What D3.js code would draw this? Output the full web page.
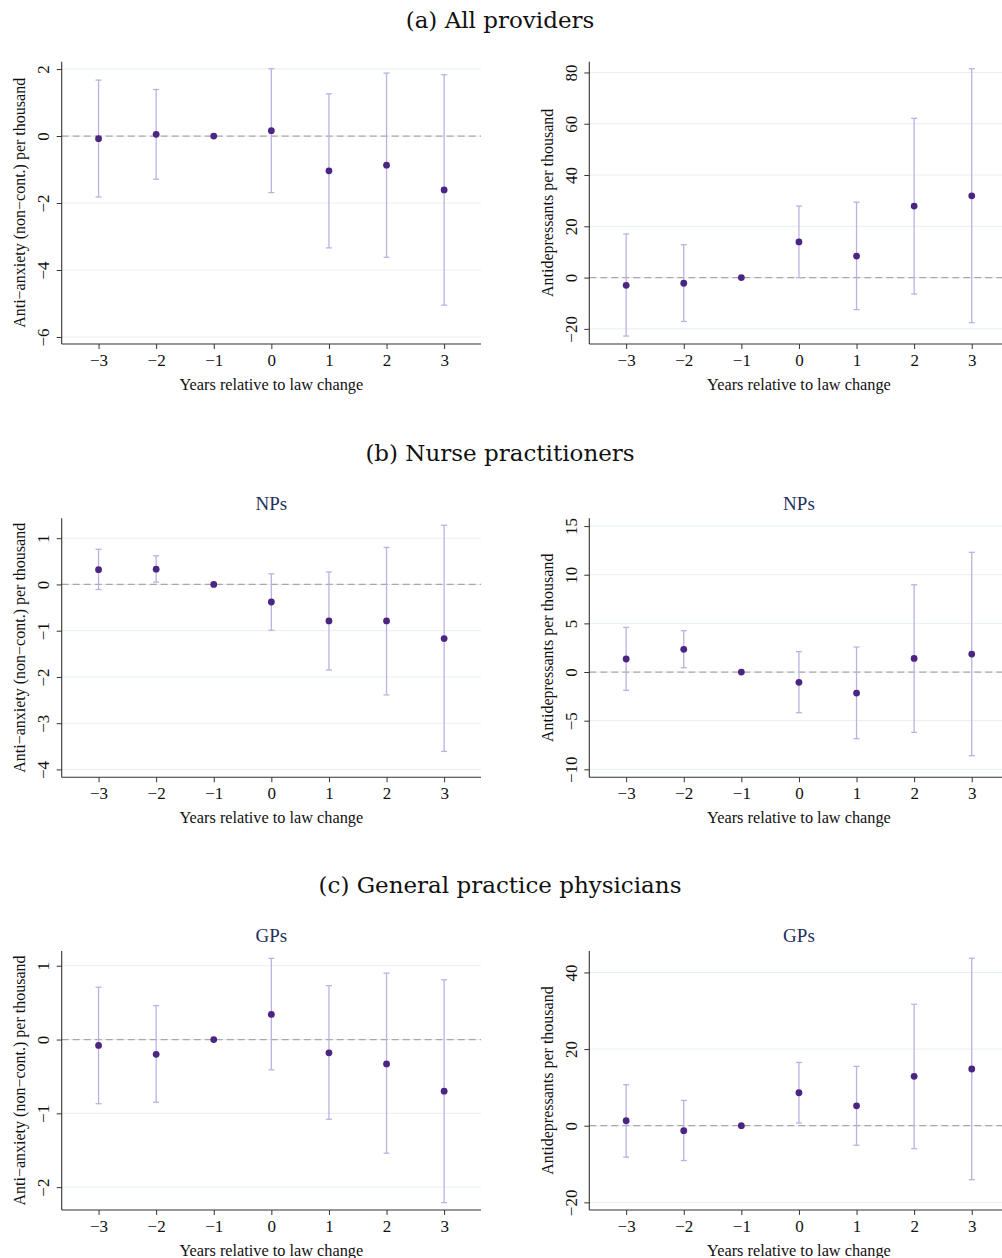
<!DOCTYPE html>
<html>
<head>
<meta charset="utf-8">
<script src="https://cdn.jsdelivr.net/npm/d3@7"></script>
<style>
  body { margin: 0; background: #fff; }
  svg { display: block; }
</style>
</head>
<body>
<svg id="chart" width="1002" height="1258"></svg>
<script>
// ---------- Data ----------
const years = [-3, -2, -1, 0, 1, 2, 3];
const xTicks = [-3, -2, -1, 0, 1, 2, 3];

// (a) All providers
const allAnxEst = [-0.08, 0.05, 0, 0.16, -1.04, -0.87, -1.61];
const allAnxLo  = [-1.82, -1.29, null, -1.69, -3.34, -3.62, -5.05];
const allAnxHi  = [1.67, 1.39, null, 2.01, 1.26, 1.88, 1.83];
const allAnxTicks = [-6, -4, -2, 0, 2];

const allDepEst = [-3.0, -2.2, 0, 13.9, 8.4, 27.9, 31.9];
const allDepLo  = [-22.8, -17.1, null, 0.0, -12.5, -6.4, -17.6];
const allDepHi  = [17.0, 12.8, null, 27.9, 29.4, 62.1, 81.5];
const allDepTicks = [-20, 0, 20, 40, 60, 80];

// (b) Nurse practitioners
const npAnxEst = [0.32, 0.33, 0, -0.38, -0.79, -0.79, -1.17];
const npAnxLo  = [-0.11, 0.05, null, -0.99, -1.85, -2.39, -3.61];
const npAnxHi  = [0.76, 0.62, null, 0.23, 0.27, 0.80, 1.28];
const npAnxTicks = [-4, -3, -2, -1, 0, 1];

const npDepEst = [1.34, 2.33, 0, -1.06, -2.16, 1.40, 1.85];
const npDepLo  = [-1.88, 0.45, null, -4.18, -6.85, -6.2, -8.6];
const npDepHi  = [4.59, 4.25, null, 2.09, 2.57, 8.97, 12.3];
const npDepTicks = [-10, -5, 0, 5, 10, 15];

// (c) General practice physicians
const gpAnxEst = [-0.08, -0.20, 0, 0.34, -0.18, -0.33, -0.70];
const gpAnxLo  = [-0.87, -0.85, null, -0.41, -1.08, -1.54, -2.21];
const gpAnxHi  = [0.71, 0.46, null, 1.10, 0.73, 0.90, 0.81];
const gpAnxTicks = [-2, -1, 0, 1];

const gpDepEst = [1.3, -1.3, 0, 8.6, 5.2, 12.9, 14.8];
const gpDepLo  = [-8.2, -9.1, null, 0.7, -5.1, -6.0, -14.1];
const gpDepHi  = [10.7, 6.6, null, 16.5, 15.5, 31.7, 43.7];
const gpDepTicks = [-20, 0, 20, 40];

const rowTitles = ["(a) All providers", "(b) Nurse practitioners", "(c) General practice physicians"];
const subTitles = [null, "NPs", "GPs"];
const xLabel = "Years relative to law change";
const anxLabel = "Anti\u2212anxiety (non\u2212cont.) per thousand";
const depLabel = "Antidepressants per thousand";

// ---------- Layout ----------
const svg = d3.select("#chart");
const serif = "'Liberation Serif', 'Times New Roman', serif";
const titleFont = "'DejaVu Serif', serif";

const rows = [
  { titleY: 20, subY: null, top: 61.7, bottom: 344,
    panels: [
      { est: allAnxEst, lo: allAnxLo, hi: allAnxHi, ticks: allAnxTicks, dom: [-6.21, 2.22], label: anxLabel },
      { est: allDepEst, lo: allDepLo, hi: allDepHi, ticks: allDepTicks, dom: [-25.9, 84.2], label: depLabel }
    ] },
  { titleY: 453, subY: 503, top: 518.3, bottom: 777.3,
    panels: [
      { est: npAnxEst, lo: npAnxLo, hi: npAnxHi, ticks: npAnxTicks, dom: [-4.17, 1.43], label: anxLabel },
      { est: npDepEst, lo: npDepLo, hi: npDepHi, ticks: npDepTicks, dom: [-10.82, 15.8], label: depLabel }
    ] },
  { titleY: 885, subY: 935, top: 951, bottom: 1210,
    panels: [
      { est: gpAnxEst, lo: gpAnxLo, hi: gpAnxHi, ticks: gpAnxTicks, dom: [-2.31, 1.20], label: anxLabel },
      { est: gpDepEst, lo: gpDepLo, hi: gpDepHi, ticks: gpDepTicks, dom: [-22.0, 45.6], label: depLabel }
    ] }
];
const colX = [
  { left: 61.7, right: 481, labelX: 19 },
  { left: 589.3, right: 1008.6, labelX: 547 }
];

const ciColor = "#bcb2e0";
const ptColor = "#4a2582";
const gridColor = "#e7eff1";

rows.forEach((row, ri) => {
  svg.append("text")
    .attr("x", 500).attr("y", row.titleY)
    .attr("text-anchor", "middle").attr("dominant-baseline", "central")
    .style("font-family", titleFont).style("font-size", "23px").style("fill", "#111")
    .text(rowTitles[ri]);

  row.panels.forEach((p, ci) => {
    const c = colX[ci];
    const x = d3.scaleLinear().domain([-3.64, 3.64]).range([c.left, c.right]);
    const y = d3.scaleLinear().domain(p.dom).range([row.bottom, row.top]);
    const g = svg.append("g");

    if (subTitles[ri]) {
      g.append("text")
        .attr("x", x(0))
        .attr("y", row.subY)
        .attr("text-anchor", "middle").attr("dominant-baseline", "central")
        .style("font-family", serif).style("font-size", "19px").style("fill", "#1f2f5c")
        .text(subTitles[ri]);
    }

    // grid
    g.selectAll(".grid").data(p.ticks).join("line")
      .attr("x1", c.left).attr("x2", c.right)
      .attr("y1", d => y(d)).attr("y2", d => y(d))
      .attr("stroke", gridColor).attr("stroke-width", 1);

    // zero dashed line
    g.append("line")
      .attr("x1", c.left).attr("x2", c.right)
      .attr("y1", y(0)).attr("y2", y(0))
      .attr("stroke", "#a8a8a8").attr("stroke-width", 1.2)
      .attr("stroke-dasharray", "7,4");

    // y axis
    const ya = g.append("g").attr("transform", `translate(${c.left},0)`)
      .call(d3.axisLeft(y).tickValues(p.ticks).tickSize(5).tickSizeOuter(0).tickFormat(d3.format("d")));
    ya.attr("font-family", null).attr("font-size", null);
    ya.select(".domain").attr("d", `M0,${row.top}V${row.bottom}`).attr("stroke", "#333").attr("stroke-width", 1.1);
    ya.selectAll(".tick line").attr("stroke", "#333");
    ya.selectAll(".tick text")
      .attr("x", null).attr("dy", null)
      .attr("transform", "translate(-18,0) rotate(-90)")
      .attr("text-anchor", "middle").attr("dominant-baseline", "central")
      .style("font-family", serif).style("font-size", "17px").style("fill", "#111");

    // x axis
    const xa = g.append("g").attr("transform", `translate(0,${row.bottom})`)
      .call(d3.axisBottom(x).tickValues(xTicks).tickSize(5).tickSizeOuter(0).tickFormat(d3.format("d")));
    xa.attr("font-family", null).attr("font-size", null);
    xa.select(".domain").attr("d", `M${c.left},0H${c.right}`).attr("stroke", "#333").attr("stroke-width", 1.1);
    xa.selectAll(".tick line").attr("stroke", "#333");
    xa.selectAll(".tick text")
      .attr("y", 16).attr("dy", null).attr("dominant-baseline", "central")
      .style("font-family", serif).style("font-size", "17px").style("fill", "#111");

    // axis titles
    g.append("text")
      .attr("x", x(0)).attr("y", row.bottom + 40)
      .attr("text-anchor", "middle").attr("dominant-baseline", "central")
      .style("font-family", serif).style("font-size", "16.3px").style("fill", "#111")
      .text(xLabel);
    g.append("text")
      .attr("transform", `translate(${c.labelX},${(row.top + row.bottom) / 2}) rotate(-90)`)
      .attr("text-anchor", "middle").attr("dominant-baseline", "central")
      .style("font-family", serif).style("font-size", "16px").style("fill", "#111")
      .text(p.label);

    const data = years.map((yr, i) => ({ yr, est: p.est[i], lo: p.lo[i], hi: p.hi[i] }));
    const ci_ = data.filter(d => d.lo !== null);

    // CI bars
    g.selectAll(".ci").data(ci_).join("line")
      .attr("x1", d => x(d.yr)).attr("x2", d => x(d.yr))
      .attr("y1", d => y(d.lo)).attr("y2", d => y(d.hi))
      .attr("stroke", ciColor).attr("stroke-width", 1.3);
    g.selectAll(".capT").data(ci_).join("line")
      .attr("x1", d => x(d.yr) - 3).attr("x2", d => x(d.yr) + 3)
      .attr("y1", d => y(d.hi)).attr("y2", d => y(d.hi))
      .attr("stroke", ciColor).attr("stroke-width", 1.3);
    g.selectAll(".capB").data(ci_).join("line")
      .attr("x1", d => x(d.yr) - 3).attr("x2", d => x(d.yr) + 3)
      .attr("y1", d => y(d.lo)).attr("y2", d => y(d.lo))
      .attr("stroke", ciColor).attr("stroke-width", 1.3);

    // points
    g.selectAll(".pt").data(data).join("circle")
      .attr("cx", d => x(d.yr)).attr("cy", d => y(d.est))
      .attr("r", 3.4).attr("fill", ptColor);
  });
});
</script>
</body>
</html>
